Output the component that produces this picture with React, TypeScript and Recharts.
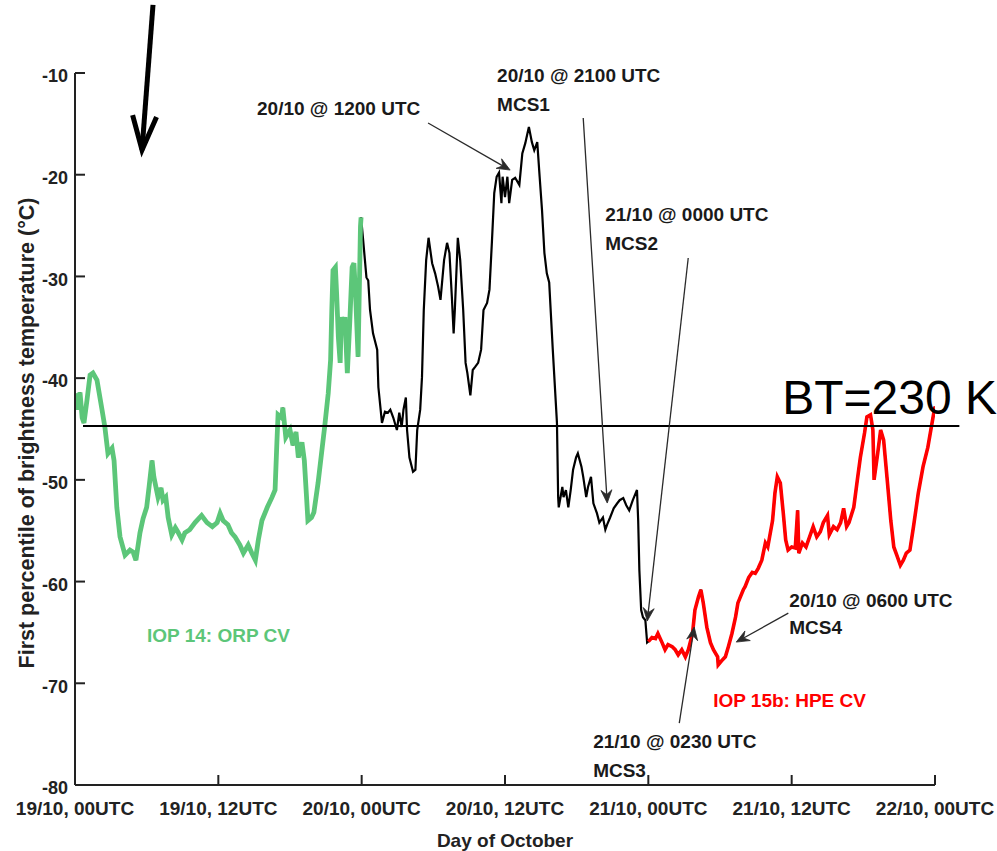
import React from 'react';
import { LineChart, Line, XAxis, YAxis, ReferenceLine, ReferenceDot } from 'recharts';

// ---------- data (hours after 19/10 00UTC, first-percentile BT in °C) ----------
const hours = [
  0, 0.25, 0.42, 0.6, 0.75, 1.0, 1.26, 1.5, 1.84, 2.26, 2.5, 2.76, 3.1, 3.27, 3.5, 3.77, 4.19, 4.6, 4.86, 5.1,
  5.44, 5.7, 6.0, 6.2, 6.45, 6.6, 6.95, 7.2, 7.37, 7.6, 7.8, 8.1, 8.4, 8.6, 8.96, 9.2, 9.6, 10.05, 10.6, 11.05,
  11.5, 11.9, 12.15, 12.4, 12.8, 13.1, 13.4, 13.8, 14.1, 14.5, 14.8, 15.1, 15.35, 15.65, 16.1, 16.5, 16.75, 16.9, 17.0, 17.3,
  17.4, 17.65, 18.0, 18.25, 18.5, 18.7, 19.0, 19.2, 19.4, 19.5, 19.8, 20.0, 20.35, 20.7, 20.9, 21.2, 21.4, 21.5, 21.6, 21.8,
  21.9, 22.05, 22.2, 22.3, 22.45, 22.6, 22.8, 23.0, 23.2, 23.35, 23.5, 23.7, 23.9, 23.95,
  24.1, 24.4, 24.55, 24.7, 24.95, 25.3, 25.4, 25.7, 25.95, 26.2, 26.4, 26.65, 26.95, 27.15, 27.35, 27.5, 27.7, 27.8, 28.0, 28.3,
  28.5, 28.65, 28.9, 29.05, 29.2, 29.4, 29.6, 29.9, 30.15, 30.4, 30.6, 30.9, 31.15, 31.35, 31.55, 31.7, 31.8, 32.05, 32.25, 32.5,
  32.7, 32.85, 33.1, 33.3, 33.5, 33.75, 34.0, 34.2, 34.5, 34.7, 34.9, 35.1, 35.3, 35.5, 35.7, 35.8, 36.0, 36.2, 36.35, 36.6,
  36.85, 37.2, 37.45, 37.7, 37.85, 38.0, 38.25, 38.45, 38.7, 38.9, 39.1, 39.3, 39.5, 39.7, 40.0, 40.35, 40.45, 40.5, 40.8, 40.9,
  41.1, 41.3, 41.5, 41.7, 41.95, 42.1, 42.4, 42.55, 42.8, 42.95, 43.2, 43.4, 43.7, 43.9, 44.2, 44.4, 44.55, 44.8, 45.1, 45.4,
  45.6, 45.9, 46.15, 46.4, 46.7, 47.05, 47.15, 47.25, 47.4, 47.55, 47.75, 47.9,
  48.0, 48.3, 48.6, 48.8, 49.15, 49.4, 49.65, 50.0, 50.25, 50.5, 50.8, 51.1, 51.35, 51.7, 51.9, 52.2, 52.4, 52.6, 52.9, 53.2,
  53.45, 53.8, 53.85, 54.2, 54.45, 54.7, 55.0, 55.3, 55.5, 55.95, 56.1, 56.4, 56.7, 56.95, 57.2, 57.5, 57.8, 58.0, 58.4, 58.6,
  58.8, 59.05, 59.3, 59.5, 59.7, 60.0, 60.3, 60.5, 60.6, 60.9, 61.2, 61.5, 61.8, 62.1, 62.4, 62.65, 63.0, 63.15, 63.5, 63.8,
  64.1, 64.35, 64.6, 64.8, 65.2, 65.5, 65.75, 66.1, 66.3, 66.6, 66.8, 66.9, 67.2, 67.45, 67.7, 68.0, 68.3, 68.55, 68.8, 69.1,
  69.35, 69.6, 69.9, 70.2, 70.6, 71.0, 71.4, 71.9, 72.0,
];

const btC = [
  -41.5, -43.1, -41.4, -43.9, -44.4, -42.2, -39.7, -39.5, -40.2, -43.1, -44.8, -47.4, -46.9, -48.1, -52.7, -55.6, -57.4, -56.9, -57.1, -57.9,
  -55.2, -53.8, -52.7, -50.7, -48.1, -49.7, -51.7, -50.8, -52.0, -51.7, -53.7, -55.4, -54.7, -55.1, -55.9, -55.2, -54.9, -54.2, -53.5, -54.2,
  -54.6, -54.2, -53.3, -54.0, -54.4, -55.2, -55.6, -56.4, -57.2, -56.4, -57.2, -57.9, -55.9, -54.0, -52.7, -51.7, -51.0, -46.4, -43.6, -43.9,
  -42.9, -45.8, -45.1, -46.6, -45.3, -47.8, -46.3, -48.1, -52.0, -54.0, -53.7, -53.2, -50.3, -46.8, -44.8, -41.5, -38.2, -33.3, -29.4, -29.1,
  -31.6, -36.0, -38.5, -34.0, -35.6, -34.0, -39.5, -34.6, -29.1, -28.7, -32.0, -37.9, -25.1, -24.2,
  -26.1, -30.1, -30.4, -33.3, -35.6, -37.2, -40.9, -44.4, -43.3, -43.4, -43.1, -43.9, -45.1, -43.4, -44.8, -43.1, -41.9, -45.1, -47.8, -49.2,
  -49.0, -45.1, -43.1, -39.9, -33.3, -28.4, -26.2, -28.7, -29.7, -31.0, -32.3, -28.4, -26.7, -27.7, -32.0, -35.6, -33.3, -26.2, -28.4, -33.3,
  -38.5, -39.5, -41.7, -39.2, -38.9, -38.5, -37.2, -33.3, -32.6, -31.3, -26.7, -21.8, -20.2, -19.8, -22.8, -20.2, -22.2, -20.2, -22.8, -20.5,
  -20.3, -21.0, -17.9, -16.9, -16.1, -15.3, -16.8, -17.6, -16.8, -20.2, -23.5, -27.7, -29.7, -30.6, -37.2, -44.4, -51.7, -52.7, -50.7, -51.7,
  -51.0, -52.7, -51.0, -49.0, -47.8, -47.4, -48.7, -49.7, -51.7, -50.7, -49.7, -52.3, -53.3, -54.2, -53.7, -54.9, -54.4, -53.7, -52.8, -52.3,
  -52.0, -51.8, -52.5, -53.0, -52.0, -51.0, -54.0, -58.9, -62.8, -63.5, -63.8, -66.0,
  -65.9, -65.5, -65.6, -65.1, -66.0, -66.7, -66.2, -66.4, -66.7, -67.2, -66.7, -67.4, -66.7, -65.1, -62.8, -61.5, -60.8, -62.1, -64.5, -66.0,
  -66.7, -67.4, -68.2, -67.7, -67.4, -66.4, -65.1, -63.5, -62.1, -60.8, -60.5, -59.6, -59.1, -59.2, -58.7, -57.9, -56.2, -56.6, -54.0, -51.3,
  -49.7, -50.3, -53.3, -55.9, -56.9, -56.6, -56.7, -53.0, -57.2, -56.2, -56.6, -55.6, -54.6, -55.6, -55.1, -54.2, -53.5, -55.4, -54.6, -54.9,
  -54.2, -52.8, -54.6, -54.2, -52.7, -50.0, -47.8, -45.4, -43.8, -43.6, -45.1, -50.0, -47.4, -45.1, -46.1, -50.0, -54.0, -56.6, -57.4, -58.4,
  -57.9, -57.2, -56.9, -54.6, -51.3, -48.7, -46.8, -43.4, -42.8,
];

const IOP14_END_H = 23.95;
const IOP15B_START_H = 48.0;
const BT_230K_C = -44.7;

const xTickHours = [0, 12, 24, 36, 48, 60, 72];
const xTickLabels = ['19/10, 00UTC', '19/10, 12UTC', '20/10, 00UTC', '20/10, 12UTC', '21/10, 00UTC', '21/10, 12UTC', '22/10, 00UTC'];
const yTicks = [-10, -20, -30, -40, -50, -60, -70, -80];

const GREEN = '#5cc679';
const RED = '#ff0000';
const FONT = '"Liberation Sans", Arial, Helvetica, sans-serif';

// annotation texts: [text, hour, °C (vertical centre), colour]
const noteTexts: [string, number, number, string][] = [
  ['20/10 @ 1200 UTC', 15.24, -13.44, '#1a1a1a'],
  ['20/10 @ 2100 UTC', 35.34, -10.25, '#1a1a1a'],
  ['MCS1', 35.34, -13.1, '#1a1a1a'],
  ['21/10 @ 0000 UTC', 44.39, -23.91, '#1a1a1a'],
  ['MCS2', 44.39, -26.72, '#1a1a1a'],
  ['21/10 @ 0230 UTC', 43.38, -75.68, '#1a1a1a'],
  ['MCS3', 43.38, -78.53, '#1a1a1a'],
  ['20/10 @ 0600 UTC', 59.8, -61.82, '#1a1a1a'],
  ['MCS4', 59.8, -64.52, '#1a1a1a'],
  ['IOP 14: ORP CV', 6.03, -65.26, GREEN],
  ['IOP 15b: HPE CV', 53.43, -71.65, RED],
];

// thin annotation arrows: [tail hour, tail °C, tip hour, tip °C]
const noteArrows: [number, number, number, number][] = [
  [29.56, -14.92, 36.43, -19.54],
  [42.55, -14.42, 44.56, -52.28],
  [51.34, -28.19, 47.91, -63.88],
  [50.59, -73.91, 51.84, -64.47],
  [59.72, -63.1, 55.36, -65.95],
];

// big arrow at top-left: tail, tip
const bigArrow: [number, number, number, number] = [6.53, -3.3, 5.61, -17.57];

const rows = hours.map((h, i) => ({
  h,
  all: btC[i],
  green: h <= IOP14_END_H ? btC[i] : null,
  red: h >= IOP15B_START_H ? btC[i] : null,
}));

const makeArrow = (width: number, head: number, halfW: number, open: boolean, color: string) => (p: any) => {
  const { x1, y1, x2, y2 } = p;
  const dx = x2 - x1;
  const dy = y2 - y1;
  const L = Math.hypot(dx, dy) || 1;
  const ux = dx / L;
  const uy = dy / L;
  const nx = -uy;
  const ny = ux;
  const bx = x2 - ux * head;
  const by = y2 - uy * head;
  const lx = bx + nx * halfW;
  const ly = by + ny * halfW;
  const rx = bx - nx * halfW;
  const ry = by - ny * halfW;
  if (open) {
    return (
      <g>
        <line x1={x1} y1={y1} x2={x2} y2={y2} stroke={color} strokeWidth={width} />
        <polyline points={`${lx},${ly} ${x2},${y2} ${rx},${ry}`} fill="none" stroke={color} strokeWidth={width} strokeLinejoin="miter" />
      </g>
    );
  }
  const mx = x2 - ux * head * 0.65;
  const my = y2 - uy * head * 0.65;
  return (
    <g>
      <line x1={x1} y1={y1} x2={mx} y2={my} stroke={color} strokeWidth={width} />
      <polygon points={`${lx},${ly} ${x2},${y2} ${rx},${ry} ${mx},${my}`} fill={color} stroke={color} strokeWidth={0.8} />
    </g>
  );
};

const thinArrow = makeArrow(1.3, 13, 5.5, false, '#2a2a2a');
const thickArrow = makeArrow(5, 34, 12, true, '#000');

const XTick = (p: any) => {
  const { x, y, payload } = p;
  const idx = xTickHours.indexOf(payload.value);
  return (
    <g>
      <line x1={x} y1={y} x2={x} y2={y - 10} stroke="#222" strokeWidth={2} />
      <text x={x} y={y + 23} dy="0.35em" textAnchor="middle" fontFamily={FONT} fontWeight={700} fontSize={19} fill="#222">
        {idx >= 0 ? xTickLabels[idx] : ''}
      </text>
    </g>
  );
};

const YTick = (p: any) => {
  const { x, y, payload } = p;
  return (
    <g>
      <line x1={x} y1={y} x2={x + 10} y2={y} stroke="#222" strokeWidth={2} />
      <text x={x - 7} y={y + 3} dy="0.35em" textAnchor="end" fontFamily={FONT} fontWeight={700} fontSize={18} fill="#222">
        {payload.value}
      </text>
    </g>
  );
};

const YLabel = (p: any) => {
  const vb = p.viewBox || { x: 74, y: 73, width: 1, height: 712 };
  const cx = vb.x + vb.width - 49;
  const cy = vb.y + vb.height / 2 + 4;
  return (
    <text x={cx} y={cy} dy="0.35em" textAnchor="middle" transform={`rotate(-90, ${cx}, ${cy})`} fontFamily={FONT} fontWeight={700} fontSize={21.5} fill="#222">
      First percentile of brightness temperature (°C)
    </text>
  );
};

const XLabel = (p: any) => {
  const vb = p.viewBox || { x: 75, y: 785, width: 860, height: 1 };
  const cx = vb.x + vb.width / 2;
  const cy = vb.y + 55;
  return (
    <text x={cx} y={cy} dy="0.35em" textAnchor="middle" fontFamily={FONT} fontWeight={700} fontSize={19} fill="#222">
      Day of October
    </text>
  );
};

export default function App() {
  return (
    <div style={{ position: 'absolute', left: 0, top: 0, width: 997, height: 851, background: '#fff' }}>
      <LineChart width={997} height={851} data={rows} margin={{ top: 73, right: 62, bottom: 65, left: 74 }}>
        <XAxis
          dataKey="h"
          type="number"
          domain={[0, 72]}
          ticks={xTickHours}
          height={1}
          tickSize={0}
          tickMargin={0}
          tickLine={false}
          axisLine={{ stroke: '#222', strokeWidth: 2 }}
          tick={<XTick />}
          interval={0}
          allowDataOverflow
          label={XLabel}
        />
        <YAxis
          type="number"
          domain={[-80, -10]}
          ticks={yTicks}
          width={1}
          tickSize={0}
          tickMargin={0}
          tickLine={false}
          axisLine={{ stroke: '#222', strokeWidth: 2 }}
          tick={<YTick />}
          interval={0}
          allowDataOverflow
          label={YLabel}
        />
        <Line type="linear" dataKey="all" stroke="#000" strokeWidth={2.2} dot={false} isAnimationActive={false} />
        <Line type="linear" dataKey="green" stroke={GREEN} strokeWidth={4.8} dot={false} isAnimationActive={false} connectNulls={false} />
        <Line type="linear" dataKey="red" stroke={RED} strokeWidth={3.6} dot={false} isAnimationActive={false} connectNulls={false} />
        <ReferenceLine
          segment={[{ x: 0.67, y: BT_230K_C }, { x: 74.04, y: BT_230K_C }]}
          stroke="#000"
          strokeWidth={2}
          ifOverflow="visible"
        />
        {noteArrows.map((a, i) => (
          <ReferenceLine
            key={`arr${i}`}
            segment={[{ x: a[0], y: a[1] }, { x: a[2], y: a[3] }]}
            ifOverflow="visible"
            shape={thinArrow}
          />
        ))}
        <ReferenceLine
          segment={[{ x: bigArrow[0], y: bigArrow[1] }, { x: bigArrow[2], y: bigArrow[3] }]}
          ifOverflow="visible"
          shape={thickArrow}
        />
        {noteTexts.map((t, i) => (
          <ReferenceDot
            key={`txt${i}`}
            x={t[1]}
            y={t[2]}
            r={0}
            ifOverflow="visible"
            shape={(p: any) => (
              <text x={p.cx} y={p.cy} dy="0.35em" textAnchor="start" fontFamily={FONT} fontWeight={700} fontSize={19} fill={t[3]}>
                {t[0]}
              </text>
            )}
          />
        ))}
        <ReferenceDot
          x={59.21}
          y={-43.53}
          r={0}
          ifOverflow="visible"
          shape={(p: any) => (
            <text x={p.cx} y={p.cy} textAnchor="start" fontFamily={FONT} fontWeight={400} fontSize={48} fill="#000">
              BT=230 K
            </text>
          )}
        />
      </LineChart>
    </div>
  );
}
